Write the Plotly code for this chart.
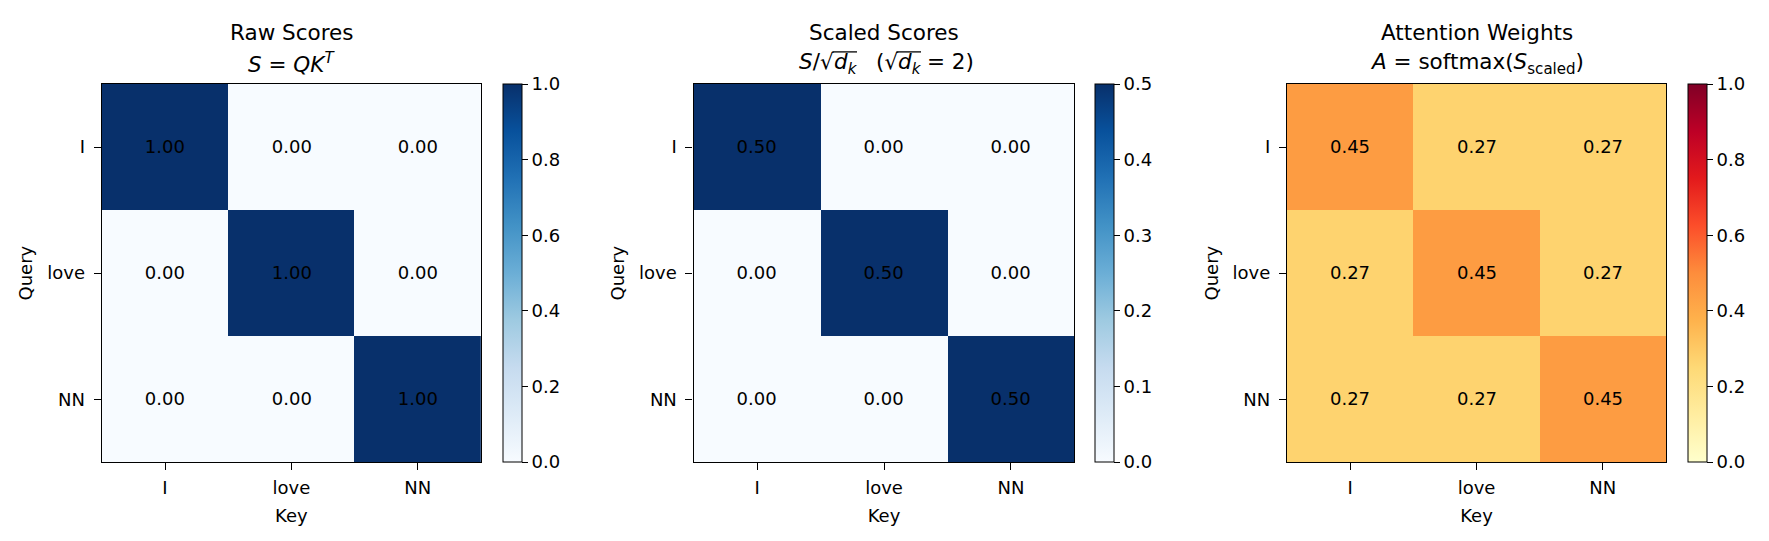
import plotly.graph_objects as go

# ---- data ----
tokens = ["I", "love", "NN"]
raw_scores = [[1.00, 0.00, 0.00],
              [0.00, 1.00, 0.00],
              [0.00, 0.00, 1.00]]
scaled_scores = [[0.50, 0.00, 0.00],
                 [0.00, 0.50, 0.00],
                 [0.00, 0.00, 0.50]]
attention = [[0.45, 0.27, 0.27],
             [0.27, 0.45, 0.27],
             [0.27, 0.27, 0.45]]
titles_line1 = ["Raw Scores", "Scaled Scores", "Attention Weights"]
title2_raw = "<i>S</i> = <i>QK</i><sup><i>T</i></sup>"
title2_attn = "<i>A</i> = softmax(<i>S</i><sub>scaled</sub>)"
# scaled-scores formula pieces: S/√d_k (√d_k = 2)
title2_scaled_pieces = ["<i>S</i>/√", "<i>d</i><sub><i>k</i></sub>", "(√",
                        "<i>d</i><sub><i>k</i></sub>", "= 2)"]
zmaxes = [1.0, 0.5, 1.0]
cb_ticks = [[0.0, 0.2, 0.4, 0.6, 0.8, 1.0],
            [0.0, 0.1, 0.2, 0.3, 0.4, 0.5],
            [0.0, 0.2, 0.4, 0.6, 0.8, 1.0]]

# ---- styling ----
W, H = 1769, 541
BLUES = ['rgb(247,251,255)', 'rgb(222,235,247)', 'rgb(198,219,239)', 'rgb(158,202,225)',
         'rgb(107,174,214)', 'rgb(66,146,198)', 'rgb(33,113,181)', 'rgb(8,81,156)', 'rgb(8,48,107)']
YLORRD = ['rgb(255,255,204)', 'rgb(255,237,160)', 'rgb(254,217,118)', 'rgb(254,178,76)',
          'rgb(253,141,60)', 'rgb(252,78,42)', 'rgb(227,26,28)', 'rgb(189,0,38)', 'rgb(128,0,38)']


def scale(cols):
    n = len(cols) - 1
    return [[i / n, c] for i, c in enumerate(cols)]


colorscales = [scale(BLUES), scale(BLUES), scale(YLORRD)]
matrices = [raw_scores, scaled_scores, attention]

ax_px = [(101.8, 481.0), (693.6, 1074.4), (1287.0, 1666.0)]
cb_px = [503.2, 1094.7, 1687.8]
top_px, bot_px = 84.0, 462.3
FONT = "DejaVu Sans"
TFS = 21.5

fig = go.Figure()
for i in range(3):
    xa = "x" if i == 0 else f"x{i+1}"
    ya = "y" if i == 0 else f"y{i+1}"
    fig.add_trace(go.Heatmap(
        z=matrices[i], x=tokens, y=tokens,
        colorscale=colorscales[i], zmin=0, zmax=zmaxes[i],
        texttemplate="%{z:.2f}",
        textfont=dict(color="black", size=18, family=FONT),
        xaxis=xa, yaxis=ya,
        hoverinfo="skip",
        colorbar=dict(
            x=cb_px[i] / W, xanchor="left", xpad=0, ypad=0,
            y=1 - (top_px + bot_px) / 2 / H, yanchor="middle",
            len=bot_px - top_px, lenmode="pixels",
            thickness=19, thicknessmode="pixels",
            outlinecolor="black", outlinewidth=1,
            tickvals=cb_ticks[i], tickformat=".1f",
            ticks="outside", ticklen=6, tickcolor="black", tickwidth=1,
            tickfont=dict(size=18, family=FONT, color="black"),
        ),
    ))
    xkey = "xaxis" if i == 0 else f"xaxis{i+1}"
    ykey = "yaxis" if i == 0 else f"yaxis{i+1}"
    fig.layout[xkey] = dict(
        domain=[ax_px[i][0] / W, ax_px[i][1] / W], anchor=ya,
        showline=True, mirror=True, linecolor="black", linewidth=1.3,
        ticks="outside", ticklen=7, tickcolor="black", tickwidth=1.3,
        ticklabelstandoff=2,
        tickfont=dict(size=18, family=FONT, color="black"),
        title=dict(text="Key", font=dict(size=18, family=FONT, color="black"), standoff=12),
        showgrid=False, zeroline=False, range=[-0.5, 2.5],
    )
    fig.layout[ykey] = dict(
        domain=[1 - bot_px / H, 1 - top_px / H], anchor=xa,
        showline=True, mirror=True, linecolor="black", linewidth=1.3,
        ticks="outside", ticklen=7, tickcolor="black", tickwidth=1.3,
        ticklabelstandoff=5,
        tickfont=dict(size=18, family=FONT, color="black"),
        title=dict(text="Query", font=dict(size=18, family=FONT, color="black"), standoff=9),
        showgrid=False, zeroline=False, range=[2.5, -0.5],
    )
    cx = (ax_px[i][0] + ax_px[i][1]) / 2 / W
    fig.add_annotation(x=cx, y=1 - 32.3 / H, xref="paper", yref="paper",
                       text=titles_line1[i], showarrow=False, xanchor="center", yanchor="middle",
                       font=dict(size=TFS, family=FONT, color="black"))

# second title lines
for i, txt in ((0, title2_raw), (2, title2_attn)):
    cx = (ax_px[i][0] + ax_px[i][1]) / 2 / W
    fig.add_annotation(x=cx, y=1 - 63 / H, xref="paper", yref="paper",
                       text=txt, showarrow=False, xanchor="center", yanchor="middle",
                       font=dict(size=TFS, family=FONT, color="black"))

# scaled-scores formula assembled from pieces, with radical vinculums drawn as lines
piece_x = [834, 834, 898, 898, 927]
piece_anchor = ["right", "left", "right", "left", "left"]
TOP_Y = 48.5
for txt, px, anc in zip(title2_scaled_pieces, piece_x, piece_anchor):
    fig.add_annotation(x=px / W, y=1 - TOP_Y / H, xref="paper", yref="paper",
                       text=txt, showarrow=False, xanchor=anc, yanchor="top",
                       borderpad=0, borderwidth=0,
                       font=dict(size=TFS, family=FONT, color="black"))
baseline = TOP_Y + 0.928 * TFS
vin_y = baseline - 0.77 * TFS
for x0 in (834, 898):
    fig.add_shape(type="line", xref="paper", yref="paper",
                  x0=(x0 - 1.5) / W, x1=(x0 + 23) / W,
                  y0=1 - vin_y / H, y1=1 - vin_y / H,
                  line=dict(color="black", width=1.3))

fig.update_layout(
    width=W, height=H, margin=dict(l=0, r=0, t=0, b=0),
    paper_bgcolor="white", plot_bgcolor="white",
    font=dict(family=FONT, color="black"),
)
fig.write_html("out.html")
